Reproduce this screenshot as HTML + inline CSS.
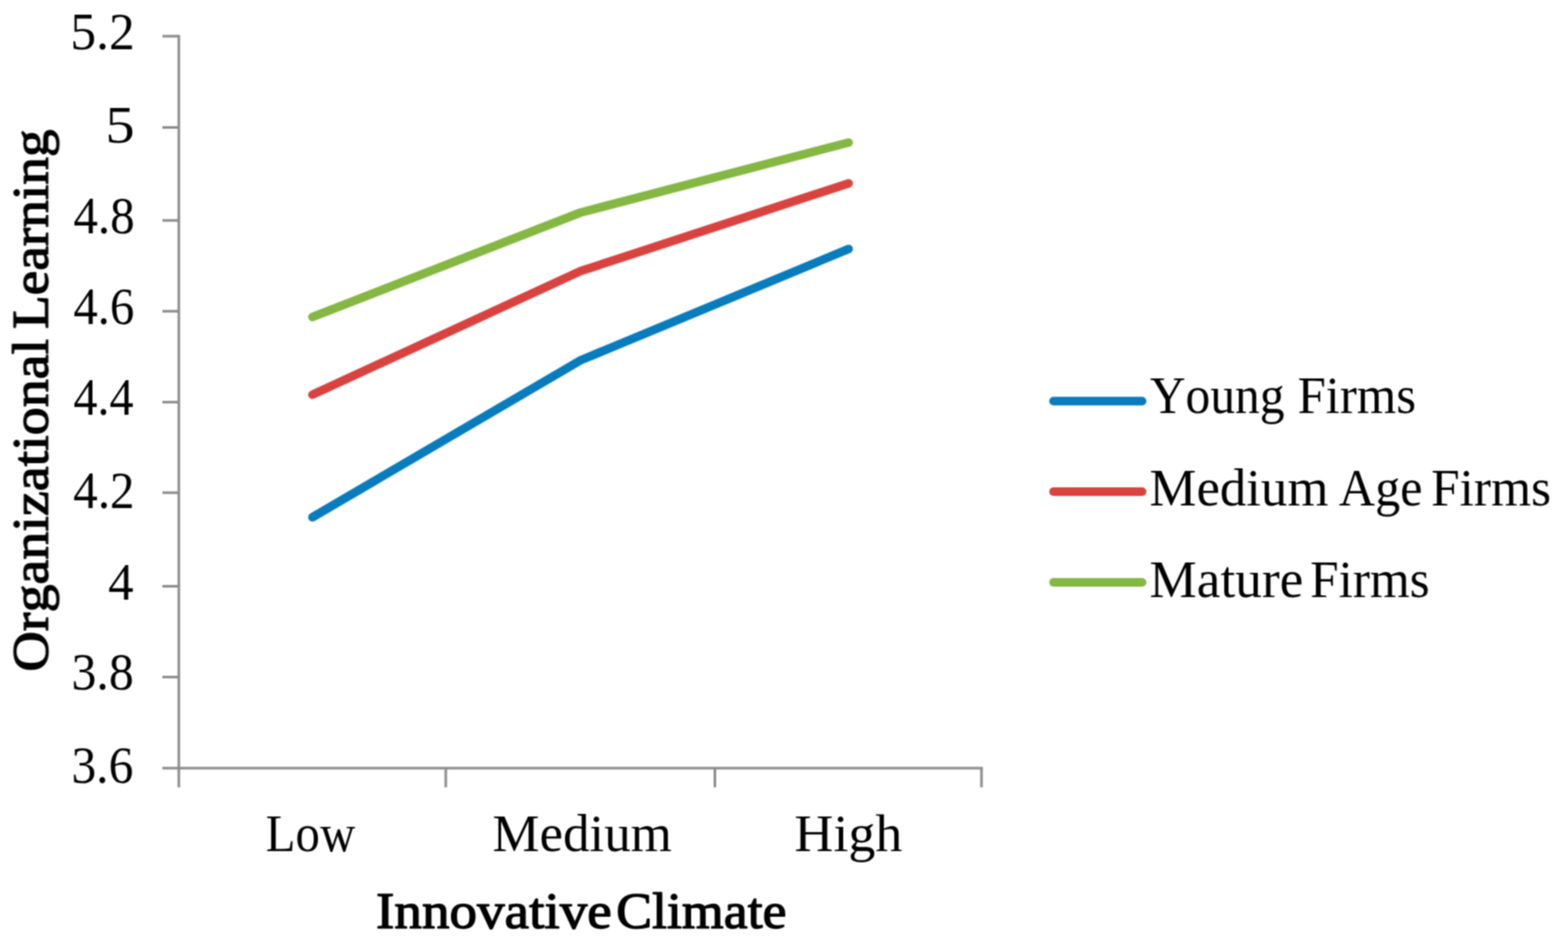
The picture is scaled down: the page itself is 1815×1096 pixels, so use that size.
<!DOCTYPE html>
<html lang="en">
<head>
<meta charset="utf-8">
<title>Organizational Learning by Innovative Climate</title>
<style>
html,body{margin:0;padding:0;background:#fff;}
body{width:1815px;height:1096px;overflow:hidden;}
svg{display:block;}
text{font-family:"Liberation Serif",serif;fill:#000;font-kerning:none;white-space:pre;}
.b{font-weight:bold;}
</style>
</head>
<body>
<svg width="1815" height="1096" viewBox="0 0 1815 1096" role="img" aria-label="Line chart of Organizational Learning by Innovative Climate for young, medium age and mature firms">
<defs><filter id="soft" filterUnits="userSpaceOnUse" x="0" y="0" width="1815" height="1096" color-interpolation-filters="sRGB"><feConvolveMatrix order="3" kernelMatrix="1 2 1 2 4 2 1 2 1" edgeMode="duplicate" preserveAlpha="false"/></filter></defs>
<rect width="1815" height="1096" fill="#fff"/>
<g filter="url(#soft)">
<g stroke="#8c8c8c" stroke-width="3.0" fill="none">
<line x1="207.0" y1="40.40" x2="207.0" y2="911.20"/>
<line x1="188.00" y1="888.9" x2="1137.60" y2="888.9"/>
<line x1="188.00" y1="41.90" x2="207.00" y2="41.90"/>
<line x1="188.00" y1="147.50" x2="207.00" y2="147.50"/>
<line x1="188.00" y1="255.10" x2="207.00" y2="255.10"/>
<line x1="188.00" y1="360.20" x2="207.00" y2="360.20"/>
<line x1="188.00" y1="465.40" x2="207.00" y2="465.40"/>
<line x1="188.00" y1="570.20" x2="207.00" y2="570.20"/>
<line x1="188.00" y1="678.50" x2="207.00" y2="678.50"/>
<line x1="188.00" y1="783.60" x2="207.00" y2="783.60"/>
<line x1="516.00" y1="888.9" x2="516.00" y2="911.20"/>
<line x1="827.50" y1="888.9" x2="827.50" y2="911.20"/>
<line x1="1136.10" y1="888.9" x2="1136.10" y2="911.20"/>
</g>
<g fill="none" stroke-width="10" stroke-linecap="round" stroke-linejoin="round">
<polyline stroke="#087CBD" points="361.7,598.6 672.0,417.0 982.3,288.2"/>
<polyline stroke="#D9433F" points="361.7,456.8 672.0,313.8 982.3,212.2"/>
<polyline stroke="#85B743" points="361.7,366.8 672.0,246.0 982.3,165.0"/>
<line stroke="#087CBD" x1="1219.5" y1="464.3" x2="1322" y2="464.3"/>
<line stroke="#D9433F" x1="1219.5" y1="569" x2="1322" y2="569"/>
<line stroke="#85B743" x1="1219.5" y1="674" x2="1322" y2="674"/>
</g>
<text transform="translate(0 57.00)" font-size="61"><tspan x="81.54" textLength="74.34" lengthAdjust="spacingAndGlyphs">5.2</tspan></text>
<text transform="translate(0 165.00)" font-size="61"><tspan x="121.96" textLength="33.89" lengthAdjust="spacingAndGlyphs">5</tspan></text>
<text transform="translate(0 270.30)" font-size="61"><tspan x="84.89" textLength="70.97" lengthAdjust="spacingAndGlyphs">4.8</tspan></text>
<text transform="translate(0 375.10)" font-size="61"><tspan x="84.90" textLength="70.48" lengthAdjust="spacingAndGlyphs">4.6</tspan></text>
<text transform="translate(0 480.40)" font-size="61"><tspan x="84.91" textLength="69.56" lengthAdjust="spacingAndGlyphs">4.4</tspan></text>
<text transform="translate(0 588.10)" font-size="61"><tspan x="84.79" textLength="70.94" lengthAdjust="spacingAndGlyphs">4.2</tspan></text>
<text transform="translate(0 693.90)" font-size="61"><tspan x="125.25" textLength="29.36" lengthAdjust="spacingAndGlyphs">4</tspan></text>
<text transform="translate(0 798.00)" font-size="61"><tspan x="82.64" textLength="72.16" lengthAdjust="spacingAndGlyphs">3.8</tspan></text>
<text transform="translate(0 905.90)" font-size="61"><tspan x="82.66" textLength="71.65" lengthAdjust="spacingAndGlyphs">3.6</tspan></text>
<text transform="translate(0 984.80)" font-size="61"><tspan x="307.57" textLength="103.68" lengthAdjust="spacingAndGlyphs">Low</tspan></text>
<text transform="translate(0 984.80)" font-size="61"><tspan x="570.03" textLength="207.72" lengthAdjust="spacingAndGlyphs">Medium</tspan></text>
<text transform="translate(0 984.80)" font-size="61"><tspan x="919.60" textLength="124.92" lengthAdjust="spacingAndGlyphs">High</tspan></text>
<text stroke="#000" stroke-width="1.4" stroke-linejoin="round" transform="translate(0 1073.50)" font-size="58.5"><tspan x="435.29" textLength="272.82" lengthAdjust="spacingAndGlyphs">Innovative</tspan> <tspan x="713.15" textLength="197.21" lengthAdjust="spacingAndGlyphs">Climate</tspan></text>
<text stroke="#000" stroke-width="1.4" stroke-linejoin="round" transform="translate(55.20 0) rotate(-90)" font-size="58.5"><tspan x="-777.26" textLength="385.06" lengthAdjust="spacingAndGlyphs">Organizational</tspan> <tspan x="-380.74" textLength="230.86" lengthAdjust="spacingAndGlyphs">Learning</tspan></text>
<text transform="translate(0 477.80)" font-size="61"><tspan x="1330.96" textLength="155.93" lengthAdjust="spacingAndGlyphs">Young</tspan> <tspan x="1501.91" textLength="137.22" lengthAdjust="spacingAndGlyphs">Firms</tspan></text>
<text transform="translate(0 585.00)" font-size="61"><tspan x="1330.54" textLength="207.22" lengthAdjust="spacingAndGlyphs">Medium</tspan> <tspan x="1549.83" textLength="96.68" lengthAdjust="spacingAndGlyphs">Age</tspan> <tspan x="1656.49" textLength="138.86" lengthAdjust="spacingAndGlyphs">Firms</tspan></text>
<text transform="translate(0 690.50)" font-size="61"><tspan x="1330.52" textLength="178.01" lengthAdjust="spacingAndGlyphs">Mature</tspan> <tspan x="1516.59" textLength="138.35" lengthAdjust="spacingAndGlyphs">Firms</tspan></text>
</g>
</svg>
</body>
</html>
